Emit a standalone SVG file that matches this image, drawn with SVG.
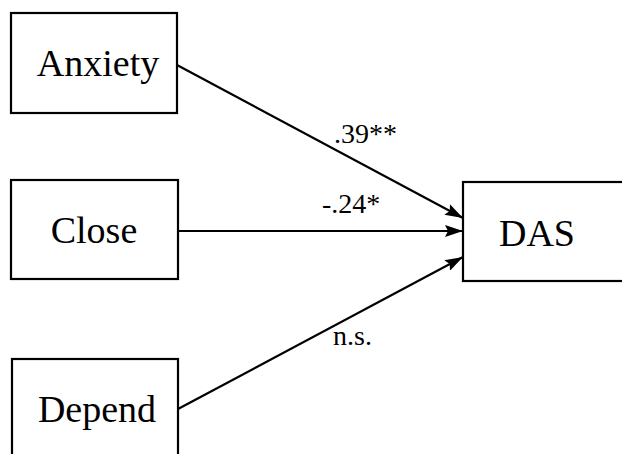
<svg xmlns="http://www.w3.org/2000/svg" width="622" height="454" viewBox="0 0 622 454">
  <style>
    .box { fill: #ffffff; stroke: #000000; stroke-width: 2.2; }
    .node-label { font-family: "Liberation Serif", "Times New Roman", serif; font-size: 38px; fill: #000000; text-anchor: middle; }
    .edge { stroke: #000000; stroke-width: 2.2; fill: none; marker-end: url(#arrow); }
    .edge-label { font-family: "Liberation Serif", "Times New Roman", serif; font-size: 28px; fill: #000000; }
  </style>
  <defs>
    <marker id="arrow" viewBox="0 0 18 12" refX="18" refY="6" markerWidth="18" markerHeight="12" markerUnits="userSpaceOnUse" orient="auto">
      <path d="M0,0 L18,6 L0,12 L3,6 Z" fill="#000000"/>
    </marker>
  </defs>
  <rect width="622" height="454" fill="#ffffff"/>

  <g id="connectors">
    <line class="edge" x1="177" y1="65" x2="463" y2="218"/>
    <line class="edge" x1="178" y1="231" x2="463" y2="231"/>
    <line class="edge" x1="178" y1="409" x2="463" y2="257"/>
    <text class="edge-label" x="334" y="143">.39**</text>
    <text class="edge-label" x="322" y="213">-.24*</text>
    <text class="edge-label" x="333" y="345">n.s.</text>
  </g>

  <g id="anxiety">
    <rect class="box" x="11" y="13" width="166" height="100"/>
    <text class="node-label" x="98" y="76">Anxiety</text>
  </g>
  <g id="close">
    <rect class="box" x="11" y="180" width="167" height="99"/>
    <text class="node-label" x="94" y="243">Close</text>
  </g>
  <g id="depend">
    <rect class="box" x="12" y="359" width="166" height="110"/>
    <text class="node-label" x="97" y="422">Depend</text>
  </g>
  <g id="das">
    <rect class="box" x="463" y="182" width="170" height="99"/>
    <text class="node-label" x="537" y="246">DAS</text>
  </g>
</svg>
